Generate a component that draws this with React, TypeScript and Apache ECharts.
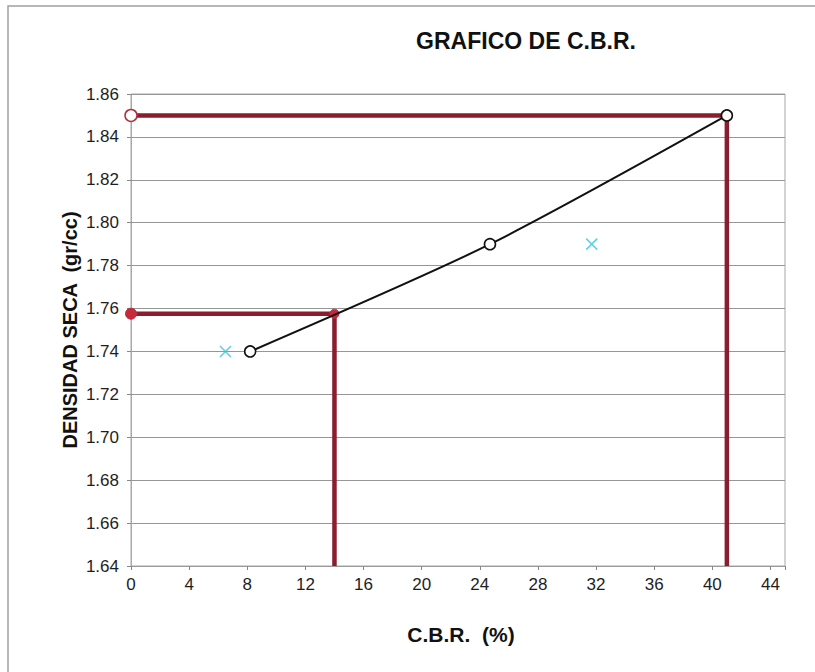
import { useEffect, useRef } from "react";
import * as echarts from "echarts";

// Compaction curve: CBR (%) against dry density (gr/cc)
const cbrPoints = [8.2, 24.7, 41.0];
const densityPoints = [1.74, 1.79, 1.85];

// Companion readings drawn as crosses
const crossCbr = [6.5, 31.7];
const crossDensity = [1.74, 1.79];

// Reference readings: maximum density and design density
const maxDensity = 1.85;
const cbrAtMax = 41.0;
const designDensity = 1.7576;
const cbrAtDesign = 14.0;

// Axis ranges
const xMin = 0;
const xMax = 45;
const xStep = 4;
const yMin = 1.64;
const yMax = 1.86;
const yStep = 0.02;

const titleText = "GRAFICO DE C.B.R.";
const xTitle = "C.B.R.  (%)";
const yTitle = "DENSIDAD SECA  (gr/cc)";

const FONT = "'Liberation Sans', Arial, sans-serif";
const RED = "#8b1e2e";
const CYAN = "#3cc6dc";

export default function App() {
  const ref = useRef<HTMLDivElement>(null);

  useEffect(() => {
    if (!ref.current) return;
    const chart = echarts.init(ref.current, undefined, { renderer: "svg" });

    const curve = cbrPoints.map((x, i) => [x, densityPoints[i]]);
    const crosses = crossCbr.map((x, i) => [x, crossDensity[i]]);

    const maxGuide = [
      {
        value: [xMin, maxDensity],
        symbol: "circle",
        symbolSize: 12,
        itemStyle: { color: "#ffffff", borderColor: "#b0303e", borderWidth: 1.5 },
      },
      { value: [cbrAtMax, maxDensity], symbol: "none" },
      { value: [cbrAtMax, yMin], symbol: "none" },
    ];
    const designGuide = [
      {
        value: [xMin, designDensity],
        symbol: "circle",
        symbolSize: 11,
        itemStyle: { color: "#c42a3c", borderColor: "#c42a3c" },
      },
      {
        value: [cbrAtDesign, designDensity],
        symbol: "circle",
        symbolSize: 9,
        itemStyle: { color: "#c42a3c", borderColor: "#c42a3c" },
      },
      { value: [cbrAtDesign, yMin], symbol: "none" },
    ];

    chart.setOption({
      animation: false,
      backgroundColor: "#ffffff",
      textStyle: { fontFamily: FONT },
      grid: {
        left: 131,
        top: 94,
        width: 654,
        height: 472,
        show: true,
        borderColor: "#a8a8a8",
        borderWidth: 1,
        backgroundColor: "transparent",
      },
      xAxis: {
        type: "value",
        min: xMin,
        max: xMax,
        interval: xStep,
        axisLine: { show: true, lineStyle: { color: "#9a9a9a", width: 1 } },
        axisTick: { show: true, length: 4, lineStyle: { color: "#888" } },
        splitLine: { show: false },
        axisLabel: {
          margin: 10,
          color: "#1e1e1e",
          fontSize: 17,
          fontFamily: FONT,
          formatter: (v: number) => (v % xStep === 0 ? String(v) : ""),
        },
      },
      yAxis: {
        type: "value",
        min: yMin,
        max: yMax,
        interval: yStep,
        axisLine: { show: true, lineStyle: { color: "#a0a0a0", type: "dotted", width: 1 } },
        axisTick: { show: true, length: 4, lineStyle: { color: "#888" } },
        splitLine: { show: true, lineStyle: { color: "#969696", width: 1 } },
        axisLabel: {
          margin: 12,
          color: "#1e1e1e",
          fontSize: 17,
          fontFamily: FONT,
          formatter: (v: number) => v.toFixed(2),
        },
      },
      series: [
        {
          type: "line",
          data: maxGuide,
          lineStyle: { color: RED, width: 4.5 },
          itemStyle: { color: RED },
          z: 3,
        },
        {
          type: "line",
          data: designGuide,
          lineStyle: { color: RED, width: 4.5 },
          itemStyle: { color: RED },
          z: 3,
        },
        {
          type: "line",
          data: curve,
          smooth: 0.25,
          symbol: "circle",
          symbolSize: 11,
          showAllSymbol: true,
          lineStyle: { color: "#111", width: 2 },
          itemStyle: { color: "#ffffff", borderColor: "#111", borderWidth: 1.6 },
          z: 4,
        },
        {
          type: "scatter",
          data: crosses,
          symbol: "path://M0,0L10,10M10,0L0,10",
          symbolSize: 11,
          itemStyle: { color: "none", borderColor: CYAN, borderWidth: 1.6 },
          z: 4,
        },
      ],
      graphic: [
        {
          type: "polyline",
          shape: { points: [[8, 672], [8, 6], [815, 6]] },
          style: { fill: "none", stroke: "#a0a0a0", lineWidth: 1.5 },
          silent: true,
        },
        {
          type: "text",
          x: 526,
          y: 41,
          style: {
            text: titleText,
            font: `bold 23px ${FONT}`,
            fill: "#111",
            textAlign: "center",
            textVerticalAlign: "middle",
          },
        },
        {
          type: "text",
          x: 461,
          y: 634,
          style: {
            text: xTitle,
            font: `bold 21px ${FONT}`,
            fill: "#111",
            textAlign: "center",
            textVerticalAlign: "middle",
          },
        },
        {
          type: "text",
          x: 70,
          y: 330,
          rotation: Math.PI / 2,
          style: {
            text: yTitle,
            font: `bold 20px ${FONT}`,
            fill: "#111",
            textAlign: "center",
            textVerticalAlign: "middle",
          },
        },
      ],
    });

    return () => chart.dispose();
  }, []);

  return (
    <div
      ref={ref}
      style={{ position: "fixed", left: 0, top: 0, width: 815, height: 672 }}
    />
  );
}
